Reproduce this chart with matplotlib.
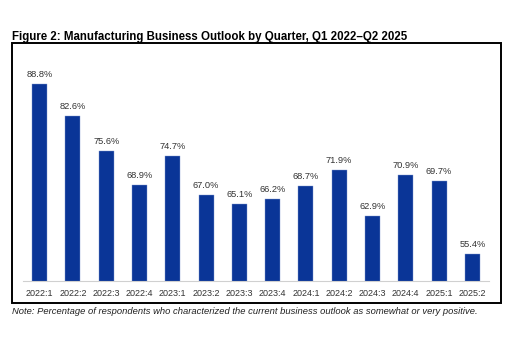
import matplotlib.pyplot as plt
from matplotlib.patches import Rectangle

plt.rcParams['font.family'] = ['Liberation Sans', 'DejaVu Sans']

quarters = ['2022:1', '2022:2', '2022:3', '2022:4', '2023:1', '2023:2', '2023:3',
            '2023:4', '2024:1', '2024:2', '2024:3', '2024:4', '2025:1', '2025:2']
outlook = [88.8, 82.6, 75.6, 68.9, 74.7, 67.0, 65.1, 66.2, 68.7, 71.9, 62.9, 70.9, 69.7, 55.4]

W, H = 514, 360
fig = plt.figure(figsize=(W / 100, H / 100), dpi=100)

# chart frame
fig.patches.append(Rectangle((12 / W, 1 - 303 / H), 489 / W, 260 / H,
                             transform=fig.transFigure, fill=False,
                             edgecolor='black', linewidth=1.4))

ax = fig.add_axes([23 / W, 79 / H, 466 / W, 228 / H])
x = range(len(quarters))
ax.bar(x, outlook, width=0.45, color='#0a3597', edgecolor='#7f97cf', linewidth=0.3)
for i, v in enumerate(outlook):
    ax.text(i, v + 1.0, f'{v:.1f}%', ha='center', va='bottom', fontsize=6.7, color='#333333')

ax.set_xlim(-0.5, len(quarters) - 0.5)
ax.set_ylim(50, 95)
ax.set_xticks(list(x))
ax.set_xticklabels(quarters, fontsize=6.5, color='#333333')
ax.tick_params(axis='x', length=0, pad=6)
ax.set_yticks([])
for s in ['top', 'right', 'left']:
    ax.spines[s].set_visible(False)
ax.spines['bottom'].set_color('#d0d0d0')
ax.spines['bottom'].set_linewidth(0.8)
ax.patch.set_visible(False)

fig.text(12 / W, 1 - 40 / H, 'Figure 2: Manufacturing Business Outlook by Quarter, Q1 2022\u2013Q2 2025',
         fontsize=8.3, fontweight='bold', ha='left', va='baseline')
fig.text(12 / W, 1 - 314 / H, 'Note: Percentage of respondents who characterized the current business outlook as somewhat or very positive.',
         fontsize=6.75, style='italic', ha='left', va='baseline', color='#202020')

fig.savefig('out.png', dpi=100)
